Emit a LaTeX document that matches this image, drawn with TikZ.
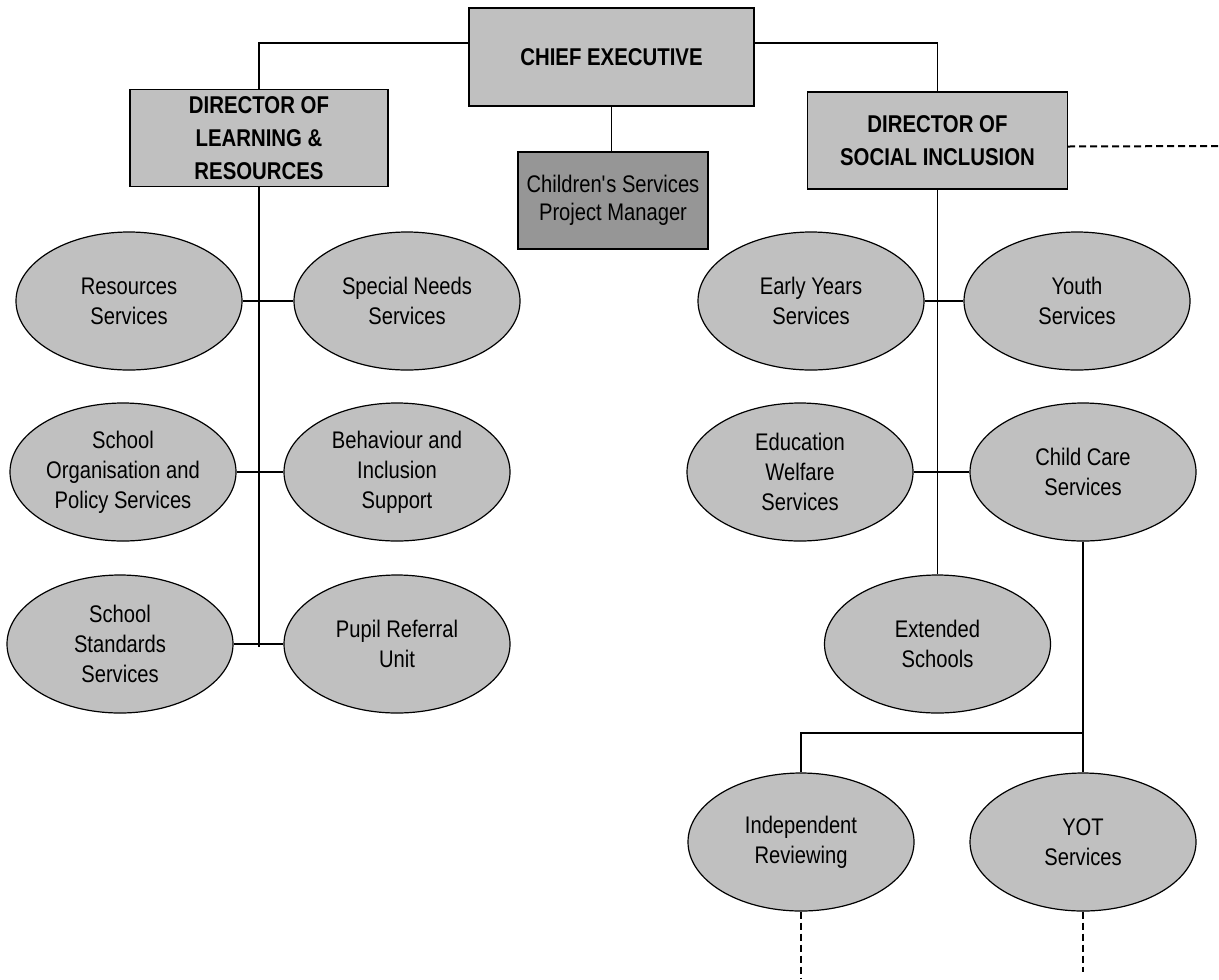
\documentclass[tikz,border=0pt]{standalone}
\usepackage{fontspec}
\setmainfont{Liberation Sans}[FakeStretch=0.84]
\usetikzlibrary{shapes.geometric,calc}
\definecolor{boxgray}{HTML}{C0C0C0}
\definecolor{pmgray}{HTML}{969696}
\begin{document}
\begin{tikzpicture}[x=0.75pt,y=-0.75pt,
  link/.style={draw=black,line width=0.85pt},
  dashlink/.style={draw=black,line width=1.5pt,dash pattern=on 5.25pt off 3pt},
  dirbox/.style={rectangle,draw=black,line width=0.9pt,fill=boxgray,align=center,
    inner sep=0pt,font=\fontsize{18.2}{24.5}\selectfont\bfseries},
  pmbox/.style={rectangle,draw=black,line width=0.9pt,fill=pmgray,align=center,
    inner sep=0pt,font=\fontsize{18}{21}\selectfont},
  svc/.style={ellipse,draw=black,line width=0.9pt,fill=boxgray,
    minimum width=169.5pt,minimum height=103.5pt,inner sep=0pt,align=center,
    font=\fontsize{18}{22.5}\selectfont},
]
\useasboundingbox (0,0) rectangle (1219,979);

% top level
\node[dirbox,minimum width=213.75pt,minimum height=73.5pt] (ce) at (611.5,57) {CHIEF EXECUTIVE};
\node[dirbox,minimum width=193.5pt,minimum height=72.75pt] (dlr) at (259,138) {DIRECTOR OF\\LEARNING \&\\RESOURCES};
\node[dirbox,minimum width=195pt,minimum height=72.75pt] (dsi) at (937.5,140.5) {DIRECTOR OF\\SOCIAL INCLUSION};
\node[pmbox,minimum width=142.5pt,minimum height=72.75pt] (cspm) at (613,200.5) {Children\textquotesingle s Services\\Project Manager};

% learning & resources services
\node[svc] (res) at (129,301) {Resources\\Services};
\node[svc] (spn) at (407,301) {Special Needs\\Services};
\node[svc] (org) at (123,472) {School\\Organisation and\\Policy Services};
\node[svc] (beh) at (397,472) {Behaviour and\\Inclusion\\Support};
\node[svc] (std) at (120,644) {School\\Standards\\Services};
\node[svc] (pru) at (397,644) {Pupil Referral\\Unit};

% social inclusion services
\node[svc] (eys) at (811,301) {Early Years\\Services};
\node[svc] (yth) at (1077,301) {Youth\\Services};
\node[svc] (ews) at (800,472) {Education\\Welfare\\Services};
\node[svc] (ccs) at (1083,472) {Child Care\\Services};
\node[svc] (ext) at (937.5,644) {Extended\\Schools};
\node[svc] (irv) at (801,842) {Independent\\Reviewing};
\node[svc] (yot) at (1083,842) {YOT\\Services};

% loose ends
\coordinate (lend) at (259,647);
\coordinate (split) at (1083,733);
\coordinate (dsiend) at (1219,146);
\coordinate (irvend) at (801,979);
\coordinate (yotend) at (1083,972);

% solid connectors
\draw[link] ($(ce.west)+(0,-14)$) -| (dlr.north);
\draw[link] ($(ce.east)+(0,-14)$) -| (dsi.north);
\draw[link] (ce.south) -- (ce.south |- cspm.north);
\draw[link] (dlr.south) -- (lend);
\draw[link] (res.east) -- (spn.west);
\draw[link] (org.east) -- (beh.west);
\draw[link] (std.east) -- (pru.west);
\draw[link] (dsi.south) -- (ext.north);
\draw[link] (eys.east) -- (yth.west);
\draw[link] (ews.east) -- (ccs.west);
\draw[link] (ccs.south) -- (yot.north);
\draw[link] (split) -| (irv.north);

% dashed continuations
\draw[dashlink] ($(dsi.east)+(0,6)$) -- (dsiend);
\draw[dashlink] (irv.south) -- (irvend);
\draw[dashlink] (yot.south) -- (yotend);
\end{tikzpicture}
\end{document}
